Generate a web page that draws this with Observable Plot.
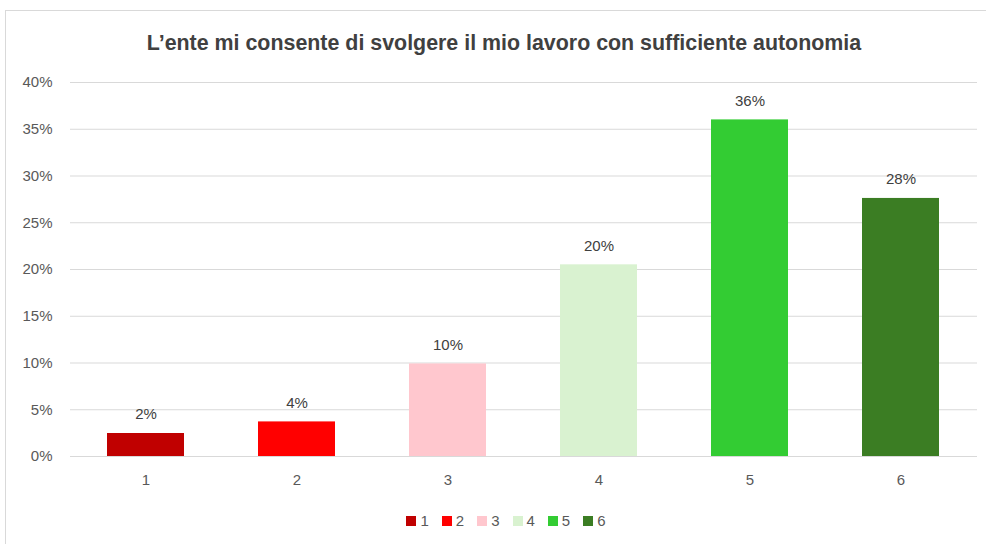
<!DOCTYPE html>
<html>
<head>
<meta charset="utf-8">
<script src="https://cdn.jsdelivr.net/npm/d3@7"></script>
<script src="https://cdn.jsdelivr.net/npm/@observablehq/plot@0.6"></script>
<style>
  html, body { margin: 0; padding: 0; background: #fff; }
  #frame { position: absolute; left: 5px; top: 10px; width: 990px; height: 560px; border: 1px solid #d9d9d9; box-sizing: border-box; }
  #title { position: absolute; left: 0; top: 31px; width: 1008px; text-align: center; font-family: "Liberation Sans", sans-serif; font-weight: bold; font-size: 21.4px; color: #404040; }
  #chart { position: absolute; left: 0; top: 70px; }
  #legend { position: absolute; left: 0; top: 512px; width: 1012px; display: flex; justify-content: center; gap: 13px; font-family: "Liberation Sans", sans-serif; font-size: 15px; color: #595959; }
  .item { display: flex; align-items: center; gap: 4px; }
  .sw { width: 10px; height: 10px; display: inline-block; }
</style>
</head>
<body>
<div id="frame"></div>
<div id="title">L’ente mi consente di svolgere il mio lavoro con sufficiente autonomia</div>
<div id="chart"></div>
<div id="legend"></div>
<script>
const categories = ["1", "2", "3", "4", "5", "6"];
const values = [2.46, 3.7, 9.9, 20.5, 36.0, 27.6];
const labels = ["2%", "4%", "10%", "20%", "36%", "28%"];
const colors = ["#C00000", "#FF0000", "#FFC7CE", "#D9F2D0", "#33CC33", "#3B7D23"];
const yTicks = [0, 5, 10, 15, 20, 25, 30, 35, 40];

const data = categories.map((c, i) => ({cat: c, value: values[i], label: labels[i], color: colors[i]}));

const chart = Plot.plot({
  width: 986,
  height: 430,
  marginTop: 12,
  marginBottom: 44,
  marginLeft: 70,
  marginRight: 9,
  style: {fontFamily: "Liberation Sans, sans-serif", fontSize: "15px", color: "#595959", background: "transparent"},
  x: {domain: categories, paddingInner: 0.49, paddingOuter: 0.245, label: null, tickSize: 0, tickPadding: 18},
  y: {domain: [0, 40], ticks: yTicks, tickFormat: d => d + "%", label: null, tickSize: 0, tickPadding: 18},
  marks: [
    Plot.gridY(yTicks, {stroke: "#d9d9d9", strokeOpacity: 1}),
    Plot.barY(data, {x: "cat", y: "value", fill: "color"}),
    Plot.text(data, {x: "cat", y: "value", text: "label", dy: -19, fill: "#404040", fontSize: 15})
  ]
});
document.getElementById("chart").appendChild(chart);

const legend = document.getElementById("legend");
categories.forEach((c, i) => {
  const item = document.createElement("span");
  item.className = "item";
  item.innerHTML = `<span class="sw" style="background:${colors[i]}"></span><span>${c}</span>`;
  legend.appendChild(item);
});
</script>
</body>
</html>
